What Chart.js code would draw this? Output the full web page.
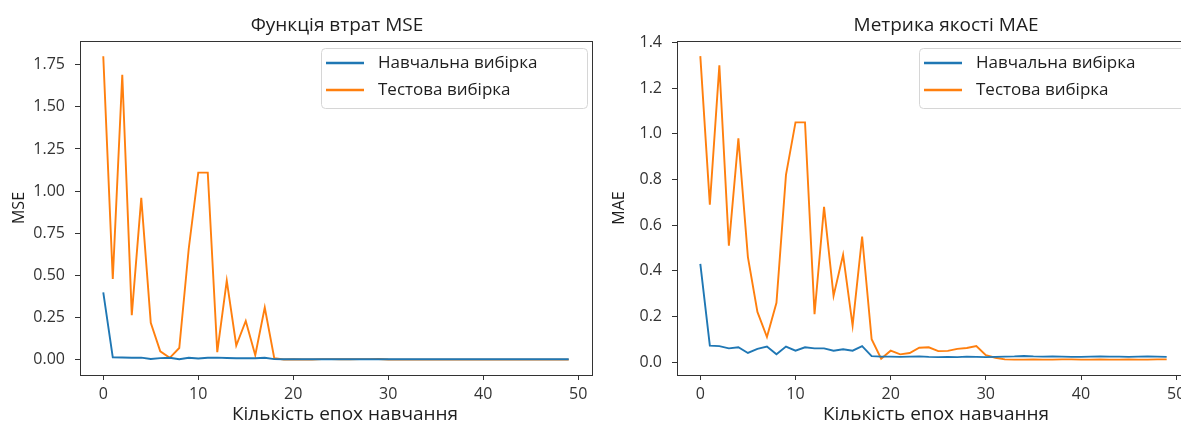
<!DOCTYPE html>
<html lang="uk">
<head>
<meta charset="utf-8">
<title>Функція втрат MSE / Метрика якості MAE</title>
<script src="https://cdn.jsdelivr.net/npm/chart.js@4"></script>
<style>
    html, body { margin: 0; padding: 0; background: #fff; overflow: hidden; }
    #wrap { position: relative; width: 1181px; height: 426px; overflow: hidden; }
    #mseChart { position: absolute; left: 0; top: 0; }
    #maeChart { position: absolute; left: 600px; top: 0; }
</style>
</head>
<body>
<div id="wrap">
    <canvas id="mseChart" width="674" height="426"></canvas>
    <canvas id="maeChart" width="692" height="426"></canvas>
</div>
<script>
// Data
const epochs = [0, 1, 2, 3, 4, 5, 6, 7, 8, 9, 10, 11, 12, 13, 14, 15, 16, 17, 18, 19,
    20, 21, 22, 23, 24, 25, 26, 27, 28, 29, 30, 31, 32, 33, 34, 35, 36, 37, 38, 39,
    40, 41, 42, 43, 44, 45, 46, 47, 48, 49];

const mseTrain = [0.40, 0.015, 0.014, 0.012, 0.013, 0.005, 0.010, 0.012, 0.003, 0.012,
    0.008, 0.012, 0.013, 0.011, 0.009, 0.010, 0.009, 0.012, 0.004, 0.003,
    0.003, 0.003, 0.003, 0.003, 0.003, 0.003, 0.003, 0.003, 0.003, 0.003,
    0.003, 0.003, 0.003, 0.003, 0.003, 0.003, 0.003, 0.003, 0.003, 0.003,
    0.003, 0.003, 0.003, 0.003, 0.003, 0.003, 0.003, 0.003, 0.003, 0.003];

const mseTest = [1.80, 0.48, 1.69, 0.265, 0.96, 0.22, 0.05, 0.012, 0.07, 0.66,
    1.11, 1.11, 0.045, 0.47, 0.085, 0.23, 0.027, 0.31, 0.01, 0.002,
    0.003, 0.002, 0.002, 0.004, 0.004, 0.003, 0.003, 0.004, 0.004, 0.005,
    0.002, 0.001, 0.001, 0.001, 0.001, 0.001, 0.001, 0.001, 0.001, 0.001,
    0.001, 0.001, 0.001, 0.001, 0.001, 0.001, 0.001, 0.001, 0.001, 0.001];

const maeTrain = [0.43, 0.072, 0.070, 0.060, 0.065, 0.040, 0.058, 0.068, 0.034, 0.068,
    0.050, 0.065, 0.060, 0.060, 0.050, 0.056, 0.050, 0.070, 0.026, 0.024,
    0.024, 0.023, 0.024, 0.025, 0.023, 0.022, 0.023, 0.022, 0.024, 0.023,
    0.022, 0.023, 0.024, 0.025, 0.027, 0.025, 0.024, 0.025, 0.024, 0.023,
    0.023, 0.024, 0.025, 0.024, 0.024, 0.023, 0.024, 0.025, 0.024, 0.023];

const maeTest = [1.34, 0.69, 1.30, 0.51, 0.98, 0.46, 0.22, 0.11, 0.26, 0.82,
    1.05, 1.05, 0.21, 0.68, 0.29, 0.47, 0.16, 0.55, 0.10, 0.015,
    0.05, 0.034, 0.04, 0.063, 0.065, 0.048, 0.049, 0.058, 0.062, 0.07,
    0.03, 0.019, 0.012, 0.011, 0.011, 0.012, 0.011, 0.011, 0.012, 0.012,
    0.011, 0.011, 0.012, 0.011, 0.011, 0.012, 0.011, 0.011, 0.012, 0.012];

const seriesNames = ['Навчальна вибірка', 'Тестова вибірка'];
const xLabel = 'Кількість епох навчання';
const xTicks = [0, 10, 20, 30, 40, 50];
const mseTicks = [0, 0.25, 0.5, 0.75, 1.0, 1.25, 1.5, 1.75];
const maeTicks = [0, 0.2, 0.4, 0.6, 0.8, 1.0, 1.2, 1.4];

const FONT = "'Open Sans', 'Noto Sans', sans-serif";
const BLUE = '#1f77b4';
const ORANGE = '#ff7f0e';
const DARK = '#333333';
const TEXT = '#1e1e1e';

// Frame round the plot area (all four spines)
const framePlugin = {
    id: 'frame',
    afterDatasetsDraw(chart) {
        const a = chart.chartArea;
        const ctx = chart.ctx;
        ctx.save();
        ctx.strokeStyle = DARK;
        ctx.lineWidth = 1;
        ctx.strokeRect(Math.round(a.left) + 0.5, Math.round(a.top) + 0.5,
            Math.round(a.right - a.left), Math.round(a.bottom - a.top));
        ctx.restore();
    }
};

// Title over the axes and the x axis label under it
const plotTitlePlugin = {
    id: 'plotTitle',
    afterDraw(chart, args, options) {
        const ctx = chart.ctx;
        ctx.save();
        ctx.fillStyle = TEXT;
        ctx.font = '19px ' + FONT;
        ctx.textAlign = 'center';
        ctx.textBaseline = 'middle';
        ctx.fillText(options.text, options.x, 26);
        ctx.fillText(xLabel, options.xLabelX, 415);
        ctx.restore();
    }
};

// Legend box in the upper right corner, like matplotlib
const boxLegendPlugin = {
    id: 'boxLegend',
    afterDraw(chart) {
        const a = chart.chartArea;
        const ctx = chart.ctx;
        const w = 266, h = 60;
        const x = a.right - 5 - w;
        const y = a.top + 7;

        ctx.save();
        ctx.beginPath();
        ctx.roundRect(x + 0.5, y + 0.5, w, h, 4);
        ctx.fillStyle = 'rgba(255,255,255,0.85)';
        ctx.fill();
        ctx.strokeStyle = '#d6d6d6';
        ctx.lineWidth = 1;
        ctx.stroke();

        chart.data.datasets.forEach((ds, i) => {
            const rowY = y + 15 + i * 27;
            ctx.beginPath();
            ctx.moveTo(x + 5, rowY);
            ctx.lineTo(x + 43, rowY);
            ctx.strokeStyle = ds.borderColor;
            ctx.lineWidth = 2.5;
            ctx.stroke();

            ctx.fillStyle = TEXT;
            ctx.font = '17px ' + FONT;
            ctx.textBaseline = 'middle';
            ctx.fillText(ds.label, x + 57, rowY);
        });
        ctx.restore();
    }
};

function buildChart(canvasId, opts) {
    const ctx = document.getElementById(canvasId).getContext('2d');

    return new Chart(ctx, {
        type: 'line',
        data: {
            labels: epochs,
            datasets: [
                {
                    label: seriesNames[0],
                    data: opts.train,
                    borderColor: BLUE,
                    borderWidth: 1.9,
                    pointRadius: 0,
                    tension: 0
                },
                {
                    label: seriesNames[1],
                    data: opts.test,
                    borderColor: ORANGE,
                    borderWidth: 1.9,
                    pointRadius: 0,
                    tension: 0
                }
            ]
        },
        options: {
            responsive: false,
            animation: false,
            layout: {
                padding: { left: 0, right: opts.padRight, top: 41, bottom: 0 }
            },
            scales: {
                x: {
                    type: 'linear',
                    min: -2.45,
                    max: 51.45,
                    afterBuildTicks: axis => {
                        axis.ticks = xTicks.map(v => ({ value: v }));
                    },
                    afterFit: axis => {
                        axis.height = 51;
                    },
                    grid: {
                        display: true,
                        drawOnChartArea: false,
                        drawTicks: true,
                        tickLength: 5,
                        color: DARK
                    },
                    border: { display: false },
                    ticks: {
                        padding: 5,
                        color: DARK,
                        font: { family: FONT, size: 16 },
                        maxRotation: 0,
                        callback: value => String(value)
                    },
                    title: { display: false }
                },
                y: {
                    type: 'linear',
                    min: opts.yMin,
                    max: opts.yMax,
                    afterBuildTicks: axis => {
                        axis.ticks = opts.yTicks.map(v => ({ value: v }));
                    },
                    afterFit: axis => {
                        axis.width = opts.yWidth;
                    },
                    grid: {
                        display: true,
                        drawOnChartArea: false,
                        drawTicks: true,
                        tickLength: 5,
                        color: DARK
                    },
                    border: { display: false },
                    ticks: {
                        padding: 10,
                        color: DARK,
                        font: { family: FONT, size: 16 },
                        callback: value => value.toFixed(opts.decimals)
                    },
                    title: {
                        display: true,
                        text: opts.yLabel,
                        color: TEXT,
                        font: { family: FONT, size: 16 },
                        padding: { top: 10, bottom: 0 }
                    }
                }
            },
            plugins: {
                legend: { display: false },
                tooltip: { enabled: false },
                title: { display: false },
                plotTitle: { text: opts.title, x: opts.titleX, xLabelX: opts.xLabelX }
            }
        },
        plugins: [framePlugin, plotTitlePlugin, boxLegendPlugin]
    });
}

document.fonts.load("16px 'Open Sans'").then(() => {
    buildChart('mseChart', {
        train: mseTrain,
        test: mseTest,
        title: 'Функція втрат MSE',
        titleX: 337,
        xLabelX: 345,
        yLabel: 'MSE',
        yMin: -0.09,
        yMax: 1.89,
        yTicks: mseTicks,
        decimals: 2,
        yWidth: 80,
        padRight: 82
    });

    buildChart('maeChart', {
        train: maeTrain,
        test: maeTest,
        title: 'Метрика якості MAE',
        titleX: 346,
        xLabelX: 336,
        yLabel: 'MAE',
        yMin: -0.0565,
        yMax: 1.4065,
        yTicks: maeTicks,
        decimals: 1,
        yWidth: 77,
        padRight: 102
    });
});
</script>
</body>
</html>
